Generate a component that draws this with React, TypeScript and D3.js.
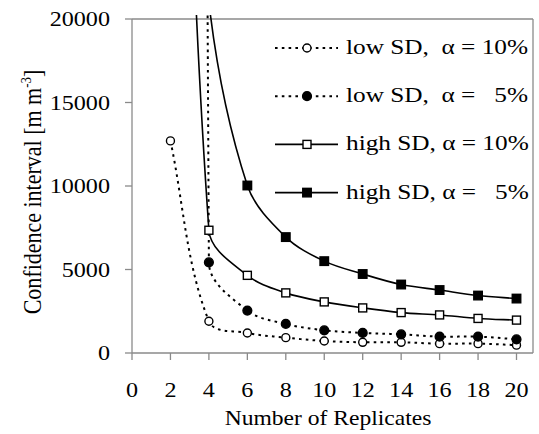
import React from 'react';
import * as d3 from 'd3';

// values (x = number of replicates)
const replicates = [2, 4, 6, 8, 10, 12, 14, 16, 18, 20];
const lowSd10 = [12700, 1900, 1200, 920, 720, 640, 640, 560, 560, 470];
const lowSd5 = [870000, 5430, 2540, 1740, 1360, 1200, 1120, 980, 980, 820];
const highSd10 = [70000, 7350, 4650, 3600, 3060, 2700, 2420, 2280, 2070, 1970];
const highSd5 = [50000, 21000, 10030, 6940, 5500, 4730, 4100, 3770, 3440, 3260];

const xTicks = [0, 2, 4, 6, 8, 10, 12, 14, 16, 18, 20];
const yTicks = [0, 5000, 10000, 15000, 20000];

const legendLabels = ['low SD,  \u03b1 = 10%', 'low SD,  \u03b1 =   5%', 'high SD, \u03b1 = 10%', 'high SD, \u03b1 =   5%'];

const W = 539, H = 434;
const L = 132, R = 533, T = 19, B = 353;
const SX = 1.15; // the picture's text is a bit wide
const FONT = '"Liberation Serif", "Times New Roman", serif';
const AXIS = '#8a8a8a';

const x = d3.scaleLinear().domain([0, 20]).range([L, 516.5]);
const y = d3.scaleLinear().domain([0, 20000]).range([B, T]);

const series = [
  { values: lowSd10, dotted: true, shape: 'circle', filled: false },
  { values: lowSd5, dotted: true, shape: 'circle', filled: true },
  { values: highSd10, dotted: false, shape: 'square', filled: false },
  { values: highSd5, dotted: false, shape: 'square', filled: true },
];

// Excel-like smoothing: tangent along neighbours, arms scaled by segment length
function smoothPath(pts: [number, number][], k = 1 / 3) {
  const p = d3.path();
  const n = pts.length;
  const tan = pts.map((_, i) => {
    const a = pts[Math.max(0, i - 1)], b = pts[Math.min(n - 1, i + 1)];
    const dx = b[0] - a[0], dy = b[1] - a[1];
    const len = Math.hypot(dx, dy) || 1;
    return [dx / len, dy / len];
  });
  p.moveTo(pts[0][0], pts[0][1]);
  for (let i = 0; i < n - 1; i++) {
    const [x0, y0] = pts[i], [x1, y1] = pts[i + 1];
    const arm = Math.hypot(x1 - x0, y1 - y0) * k;
    p.bezierCurveTo(x0 + tan[i][0] * arm, y0 + tan[i][1] * arm, x1 - tan[i + 1][0] * arm, y1 - tan[i + 1][1] * arm, x1, y1);
  }
  return p.toString();
}

function Marker({ cx, cy, shape, filled }: any) {
  if (shape === 'circle') {
    return <circle cx={cx} cy={cy} r={filled ? 4.4 : 4} fill={filled ? '#000' : '#fff'} stroke="#000" strokeWidth={1.4} />;
  }
  const s = filled ? 8.5 : 8;
  return <rect x={cx - s / 2} y={cy - s / 2} width={s} height={s} fill={filled ? '#000' : '#fff'} stroke="#000" strokeWidth={1.4} />;
}

function Txt({ x, y, anchor = 'start', size = 21, children }: any) {
  return (
    <text transform={`translate(${x},${y}) scale(${SX},1)`} textAnchor={anchor} fontSize={size} fontFamily={FONT} fill="#000" style={{ whiteSpace: 'pre' }}>
      {children}
    </text>
  );
}

export default function App() {
  return (
    <svg width={W} height={H} style={{ position: 'absolute', left: 0, top: 0, background: '#fff' }}>
      <defs>
        <clipPath id="plot">
          <rect x={L} y={T - 4} width={R - L} height={B - T + 4} />
        </clipPath>
      </defs>

      {/* plot frame */}
      <line x1={L} x2={R} y1={T} y2={T} stroke={AXIS} strokeWidth={1.3} />
      <line x1={R} x2={R} y1={T} y2={B} stroke={AXIS} strokeWidth={1.3} />
      <line x1={L} x2={L} y1={T} y2={B} stroke={AXIS} strokeWidth={1.3} />
      <line x1={L} x2={R} y1={B} y2={B} stroke={AXIS} strokeWidth={1.3} />

      {/* y axis */}
      {yTicks.map(t => (
        <g key={t}>
          <line x1={L - 7} x2={L} y1={y(t)} y2={y(t)} stroke={AXIS} strokeWidth={1.3} />
          <Txt x={110} y={y(t) + 7} anchor="end">{t}</Txt>
        </g>
      ))}
      {/* x axis */}
      {xTicks.map(t => (
        <g key={t}>
          <line x1={x(t)} x2={x(t)} y1={B} y2={B + 7} stroke={AXIS} strokeWidth={1.3} />
          <Txt x={x(t)} y={397} anchor="middle">{t}</Txt>
        </g>
      ))}

      <Txt x={328} y={425} anchor="middle" size={20.5}>Number of Replicates</Txt>
      <text transform={`translate(41,192) scale(${SX},1) rotate(-90)`} textAnchor="middle" fontSize={22} fontFamily={FONT}>
        Confidence interval [m m<tspan dy={-9} fontSize={13}>-3</tspan><tspan dy={9}>]</tspan>
      </text>

      {/* series */}
      <g clipPath="url(#plot)">
        {series.map((s, i) => {
          const pts = s.values.map((v, j) => [x(replicates[j]), y(v)] as [number, number]);
          return (
            <g key={i}>
              <path d={smoothPath(pts)} fill="none" stroke="#000" strokeWidth={s.dotted ? 2 : 1.6} strokeDasharray={s.dotted ? '2.6,4.2' : undefined} />
              {pts.map(([px, py], j) => (
                <Marker key={j} cx={px} cy={py} shape={s.shape} filled={s.filled} />
              ))}
            </g>
          );
        })}
      </g>

      {/* legend */}
      {series.map((s, i) => {
        const cy = 48 + i * 48.2;
        return (
          <g key={i}>
            <line x1={275} x2={338} y1={cy} y2={cy} stroke="#000" strokeWidth={s.dotted ? 2 : 1.6} strokeDasharray={s.dotted ? '2.6,4.2' : undefined} />
            <Marker cx={307} cy={cy} shape={s.shape} filled={s.filled} />
            <Txt x={346} y={cy + 6} size={22}>{legendLabels[i]}</Txt>
          </g>
        );
      })}
    </svg>
  );
}
